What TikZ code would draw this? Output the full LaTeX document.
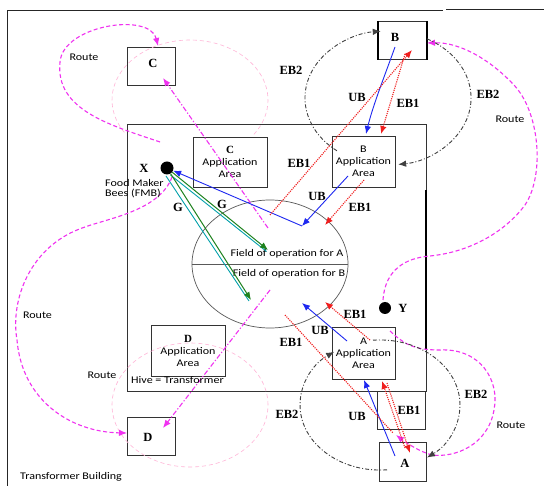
\documentclass[tikz,border=0pt]{standalone}
\usepackage{fontspec}
\newfontfamily\sfc[FakeStretch=1.18]{Carlito}
\newfontfamily\serb{Liberation Serif}
\usetikzlibrary{arrows.meta,shapes.geometric}
\definecolor{routec}{RGB}{240,50,240}
\definecolor{pinkc}{RGB}{255,180,215}
\definecolor{tealc}{RGB}{0,160,170}
\definecolor{greenc}{RGB}{30,130,30}
\definecolor{bluec}{RGB}{30,40,240}
\definecolor{redc}{RGB}{240,30,30}
\begin{document}
\begin{tikzpicture}[x=1pt,y=-1pt,
  every node/.style={inner sep=0pt},
  tip/.style={-{Latex[length=8pt,width=6.5pt]}},
  route/.style={draw=routec, line width=1.1pt, dash pattern=on 4pt off 2.5pt},
  routedd/.style={draw=routec, line width=1.1pt, dash pattern=on 5pt off 2pt on 1.2pt off 2pt},
  pinkring/.style={draw=pinkc, line width=0.6pt, dash pattern=on 4pt off 3pt},
  ebtwo/.style={draw=black!75, line width=0.9pt, dash pattern=on 4pt off 2pt on 1pt off 2pt},
  ebone/.style={draw=redc, line width=1.1pt, dash pattern=on 1.1pt off 1.1pt},
  ubl/.style={draw=bluec, line width=0.9pt},
  gl/.style={draw=greenc, line width=1pt},
  tl/.style={draw=tealc, line width=0.9pt},
  sfl/.style={font=\sfc\fontsize{10.2}{12}\selectfont},
  bl/.style={font=\serb\bfseries\fontsize{12.5}{14}\selectfont},
  bx/.style={draw=black!80, line width=0.9pt, anchor=north west},
  app/.style={draw=black!80, line width=0.9pt, align=center, font=\sfc\fontsize{10.2}{12}\selectfont}
]
\useasboundingbox (0,0) rectangle (544,486);
\fill[white] (0,0) rectangle (544,486);

% outer frame (transformer building)
\draw[black!85, line width=0.9pt] (7,486) -- (7,10) -- (443,10);
\draw[black!85, line width=0.9pt] (446,9.5) -- (544,9.5);

% hive
\node[bx, minimum width=299pt, minimum height=267pt] (hive) at (127,124) {};
\draw[black, line width=1.8pt] (426,190) -- (426,350);

% boxes
\node[bx, minimum width=48pt, minimum height=38pt] (boxC) at (127,47) {};
\node[bx, minimum width=48pt, minimum height=38pt] (boxB) at (378,21) {};
\draw[black, line width=1.8pt] (boxB.north west) -- (boxB.south west);
\draw[black, line width=1.8pt] (boxB.north east) -- (boxB.south east);
\node[bx, minimum width=48pt, minimum height=38pt] (boxD) at (127,417) {};
\node[bx, minimum width=47pt, minimum height=39pt] (boxA) at (379,442) {};
\node[bx, minimum width=48pt, minimum height=38pt] (boxE) at (377,391) {};

\node[app, minimum width=74pt, minimum height=50pt] (appC) at (230,162) {{\serb\bfseries\fontsize{11}{12}\selectfont C}\\Application\\Area};
\node[app, minimum width=63pt, minimum height=51pt] (appB) at (363.5,161.5) {B\\Application\\Area};
\node[app, minimum width=74pt, minimum height=51pt] (appD) at (188,350.5) {{\serb\bfseries\fontsize{11}{12}\selectfont D}\\Application\\Area};
\node[app, minimum width=63pt, minimum height=52pt] (appA) at (363.5,353) {A\\Application\\Area};

% field of operation
\node[draw=black!65, line width=0.7pt, ellipse, minimum width=156pt, minimum height=128pt] (field) at (270,264) {};
\draw[black!65, line width=0.7pt] (field.west) -- (field.east);
\node[sfl] (fA) at (287,254) {Field of operation for A};
\node[sfl] (fB) at (289,274) {Field of operation for B};

% pink faint rings
\draw[pinkring] plot[domain=-35:215, samples=60] ({190+78*cos(\x)}, {100-60*sin(\x)});
\draw[pinkring] (190,405) ellipse [x radius=78pt, y radius=62pt];

% dots
\node[circle, fill=black, minimum size=13pt] (X) at (167,168) {};
\node[circle, fill=black, minimum size=12pt] (Y) at (385,308) {};

% coordinates
\coordinate (rc0) at (160,142);
\coordinate (rc1) at (158,46);
\coordinate (rd0) at (172,177);
\coordinate (rd1) at (127,433);
\coordinate (rb0) at (383,300);
\coordinate (rb1) at (427,43);
\coordinate (ra0) at (390,331);
\coordinate (ra1) at (396,435);
\coordinate (ddc0) at (268,228);
\coordinate (ddc1) at (163,78);
\coordinate (ddd0) at (270,290);
\coordinate (ddd1) at (163,428);

% magenta routes
\draw[route, tip] (rc0) .. controls (110,125) and (55,110) .. (60,62)
   .. controls (63,25) and (150,12) .. (rc1);
\draw[route, tip] (rd0) .. controls (160,210) and (110,218) .. (85,227)
   .. controls (30,245) and (10,300) .. (17,340)
   .. controls (22,400) and (70,432) .. (rd1);
\draw[route, tip] (rb0) .. controls (385,270) and (405,258) .. (430,256)
   .. controls (470,252) and (505,232) .. (525,205)
   .. controls (545,175) and (540,110) .. (512,83)
   .. controls (490,60) and (460,42) .. (rb1);
\draw[route, tip] (ra0) .. controls (405,345) and (415,350) .. (440,350)
   .. controls (480,348) and (500,380) .. (494,410)
   .. controls (488,445) and (455,458) .. (432,455)
   .. controls (420,452) and (405,442) .. (ra1);
\draw[routedd, tip] (ddc0) -- (ddc1);
\draw[routedd, tip] (ddd0) -- (ddd1);

% black dash-dot EB2 loops
\draw[ebtwo, tip] (336.9,150.8) arc[start angle=232, end angle=95, x radius=83pt, y radius=67pt];
\draw[ebtwo, tip] (427,38.8) arc[start angle=62, end angle=-83, x radius=83pt, y radius=67pt];
\draw[ebtwo, tip] (387,469.8) arc[start angle=275, end angle=125, x radius=80pt, y radius=65pt];
\draw[ebtwo, tip] (373,340.2) arc[start angle=95, end angle=-54, x radius=80pt, y radius=65pt];

% blue UB
\coordinate (ub1) at (395,47);
\coordinate (ub2) at (366,134);
\coordinate (ub3) at (348,176);
\coordinate (ub4) at (302,226);
\coordinate (ub5) at (395,456);
\coordinate (ub6) at (364,380);
\coordinate (ub7) at (347,341);
\coordinate (ub8) at (302,303);
\draw[ubl, tip] (ub1) .. controls (385,75) and (373,105) .. (ub2);
\draw[ubl, tip] (ub3) -- (ub4);
\draw[ubl, tip] (ub4) -- (X);
\draw[ubl, tip] (ub5) -- (ub6);
\draw[ubl, tip] (ub7) -- (ub8);

% red EB1
\coordinate (e1) at (270,215);
\coordinate (e2) at (412,50);
\coordinate (e3) at (405,54);
\coordinate (e4) at (381,134);
\coordinate (e5) at (364,180);
\coordinate (e6) at (325,225);
\coordinate (e7) at (370,340);
\coordinate (e8) at (325,302);
\coordinate (e9) at (285,315);
\coordinate (e10) at (393,433);
\coordinate (e11) at (387,383);
\coordinate (e12) at (410,453);
\coordinate (e13) at (405,448);
\coordinate (e14) at (382,381);
\draw[ebone, tip] (e1) -- (e2);
\draw[ebone, tip] (e3) -- (e4);
\draw[ebone, tip] (e5) -- (e6);
\draw[ebone, tip] (e7) -- (e8);
\draw[ebone] (e9) -- (e10);
\draw[ebone, tip] (e11) -- (e12);
\draw[ebone, tip] (e13) -- (e14);

% green G
\coordinate (g1) at (268,250);
\coordinate (g2) at (251,300);
\draw[tl] (170.5,175) -- (266.5,251.5);
\draw[gl, tip] (X) -- (g1);
\draw[tl] (166,176) -- (249,301);
\draw[gl, tip] (X) -- (g2);

% labels
\node[bl] (lC) at (153,63) {C};
\node[bl] (lB) at (395,37) {B};
\node[bl] (lD) at (148,437) {D};
\node[bl] (lA) at (405,463) {A};
\node[bl] (lX) at (144,168) {X};
\node[bl] (lY) at (403,308) {Y};
\node[sfl, anchor=west] (fmb1) at (105,183) {Food Maker};
\node[sfl, anchor=west] (fmb2) at (105,193) {Bees (FMB)};
\node[bl] (g1l) at (178,207) {G};
\node[bl] (g2l) at (222,204) {G};
\node[sfl] (r1) at (84,57) {Route};
\node[sfl] (r2) at (510,119) {Route};
\node[sfl] (r3) at (37.5,315) {Route};
\node[sfl] (r4) at (102,375) {Route};
\node[sfl] (r5) at (511,425) {Route};
\node[sfl, anchor=west] (hv) at (131,380) {Hive = Transformer};
\node[sfl, anchor=west] (tb) at (20,477) {Transformer Building};
\node[bl] (t1) at (291,70) {EB2};
\node[bl] (t2) at (357,97) {UB};
\node[bl] (t3) at (408,103) {EB1};
\node[bl] (t4) at (488,94) {EB2};
\node[bl] (t5) at (299,163) {EB1};
\node[bl] (t6) at (317,196) {UB};
\node[bl] (t7) at (360,207) {EB1};
\node[bl] (t8) at (355,314) {EB1};
\node[bl] (t9) at (320,330) {UB};
\node[bl] (t10) at (291,342) {EB1};
\node[bl] (t11) at (287,414) {EB2};
\node[bl] (t12) at (357,416) {UB};
\node[bl] (t13) at (409,410) {EB1};
\node[bl] (t14) at (476,394) {EB2};
\end{tikzpicture}
\end{document}
